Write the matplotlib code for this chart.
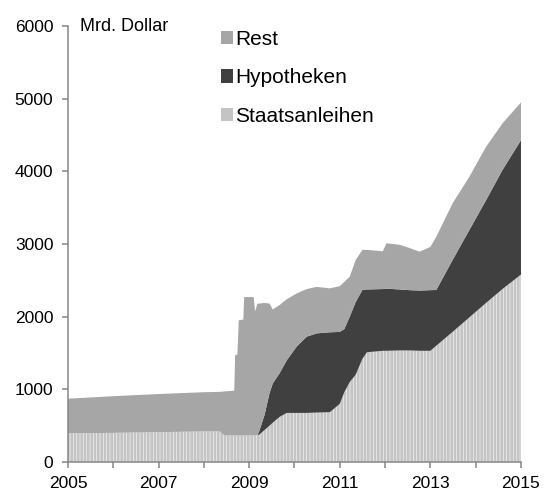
import numpy as np
import matplotlib
matplotlib.use("Agg")
import matplotlib.pyplot as plt
from matplotlib.patches import Patch

plt.rcParams['font.family'] = ['Liberation Sans', 'DejaVu Sans']
plt.rcParams['hatch.linewidth'] = 2.0

# values (Mrd. Dollar), dates as decimal years
dates = [2005.00, 2006.00, 2007.00, 2008.00, 2008.35, 2008.45, 2008.67, 2008.69,
         2008.74, 2008.77, 2008.87, 2008.89, 2009.10, 2009.13, 2009.18, 2009.22,
         2009.34, 2009.45, 2009.52, 2009.67, 2009.83, 2010.05, 2010.27, 2010.49,
         2010.78, 2011.00, 2011.10, 2011.22, 2011.35, 2011.50, 2011.60, 2011.95,
         2012.03, 2012.32, 2012.54, 2012.76, 2013.00, 2013.13, 2013.49, 2013.86,
         2014.23, 2014.59, 2015.00]
staatsanleihen = [395, 400, 410, 420, 420, 365, 365, 365,
                  365, 365, 365, 365, 365, 365, 370, 375,
                  440, 500, 540, 620, 675, 675, 675, 680,
                  685, 800, 960, 1100, 1200, 1420, 1510, 1530,
                  1530, 1535, 1535, 1530, 1530, 1600, 1790, 1990,
                  2190, 2380, 2580]
hypotheken = [0, 0, 0, 0, 0, 0, 0, 0,
              0, 0, 0, 0, 0, 0, 0, 45,
              210, 450, 540, 600, 725, 915, 1050, 1090,
              1100, 990, 870, 900, 1000, 950, 865, 850,
              855, 840, 830, 830, 835, 767, 990, 1203,
              1415, 1638, 1850]
rest = [476, 505, 525, 540, 545, 605, 617, 1105,
        1115, 1585, 1595, 1905, 1905, 1705, 1810, 1760,
        1540, 1230, 1020, 940, 840, 730, 655, 640,
        605, 630, 650, 550, 580, 550, 545, 520,
        625, 615, 580, 535, 595, 733, 780, 733,
        734, 642, 520]

labels = ['Rest', 'Hypotheken', 'Staatsanleihen']
c_rest = '#a6a6a6'
c_hyp = '#404040'
c_staat = '#c4c4c4'

x = np.array(dates)
s = np.array(staatsanleihen)
h = s + np.array(hypotheken)
t = h + np.array(rest)

fig = plt.figure(figsize=(5.44, 4.93), dpi=100)
ax = fig.add_axes([0.125, 0.063, 0.8327, 0.884])

ax.fill_between(x, 0, s, facecolor='white', edgecolor=c_staat, hatch='|||||', linewidth=0)
ax.fill_between(x, s, h, facecolor=c_hyp, linewidth=0)
ax.fill_between(x, h, t, facecolor=c_rest, linewidth=0)

ax.set_xlim(2005, 2015)
ax.set_ylim(0, 6000)

for side in ['top', 'right']:
    ax.spines[side].set_visible(False)
for side in ['left', 'bottom']:
    ax.spines[side].set_color('#868686')
    ax.spines[side].set_linewidth(1.1)

ax.set_yticks(range(0, 6001, 1000))
ax.set_xticks(range(2005, 2016, 2))
ax.set_xticklabels(['2005', '2007', '2009', '2011', '2013', ''])
ax.set_xticks(range(2005, 2016), minor=True)
ax.tick_params(axis='both', which='both', direction='out', length=4.5, width=1.1,
               color='#868686', labelsize=12.5)
ax.tick_params(axis='x', pad=5.5)
ax.tick_params(axis='y', pad=6)
ax.text(2015, -200, '2015', ha='center', va='top', fontsize=12.5, clip_on=False)

ax.text(0.026, 1.0, 'Mrd. Dollar', transform=ax.transAxes, fontsize=13,
        ha='left', va='center')

handles = [Patch(facecolor=c_rest, edgecolor='none'),
           Patch(facecolor=c_hyp, edgecolor='none'),
           Patch(facecolor=c_staat, edgecolor='none')]
fig.legend(handles, labels, loc='upper left', bbox_to_anchor=(0.406, 0.94),
           frameon=False, fontsize=15, handlelength=0.6, handleheight=0.6,
           handletextpad=0.1, labelspacing=0.95, borderpad=0, borderaxespad=0)

fig.savefig('out.png', dpi=100)
